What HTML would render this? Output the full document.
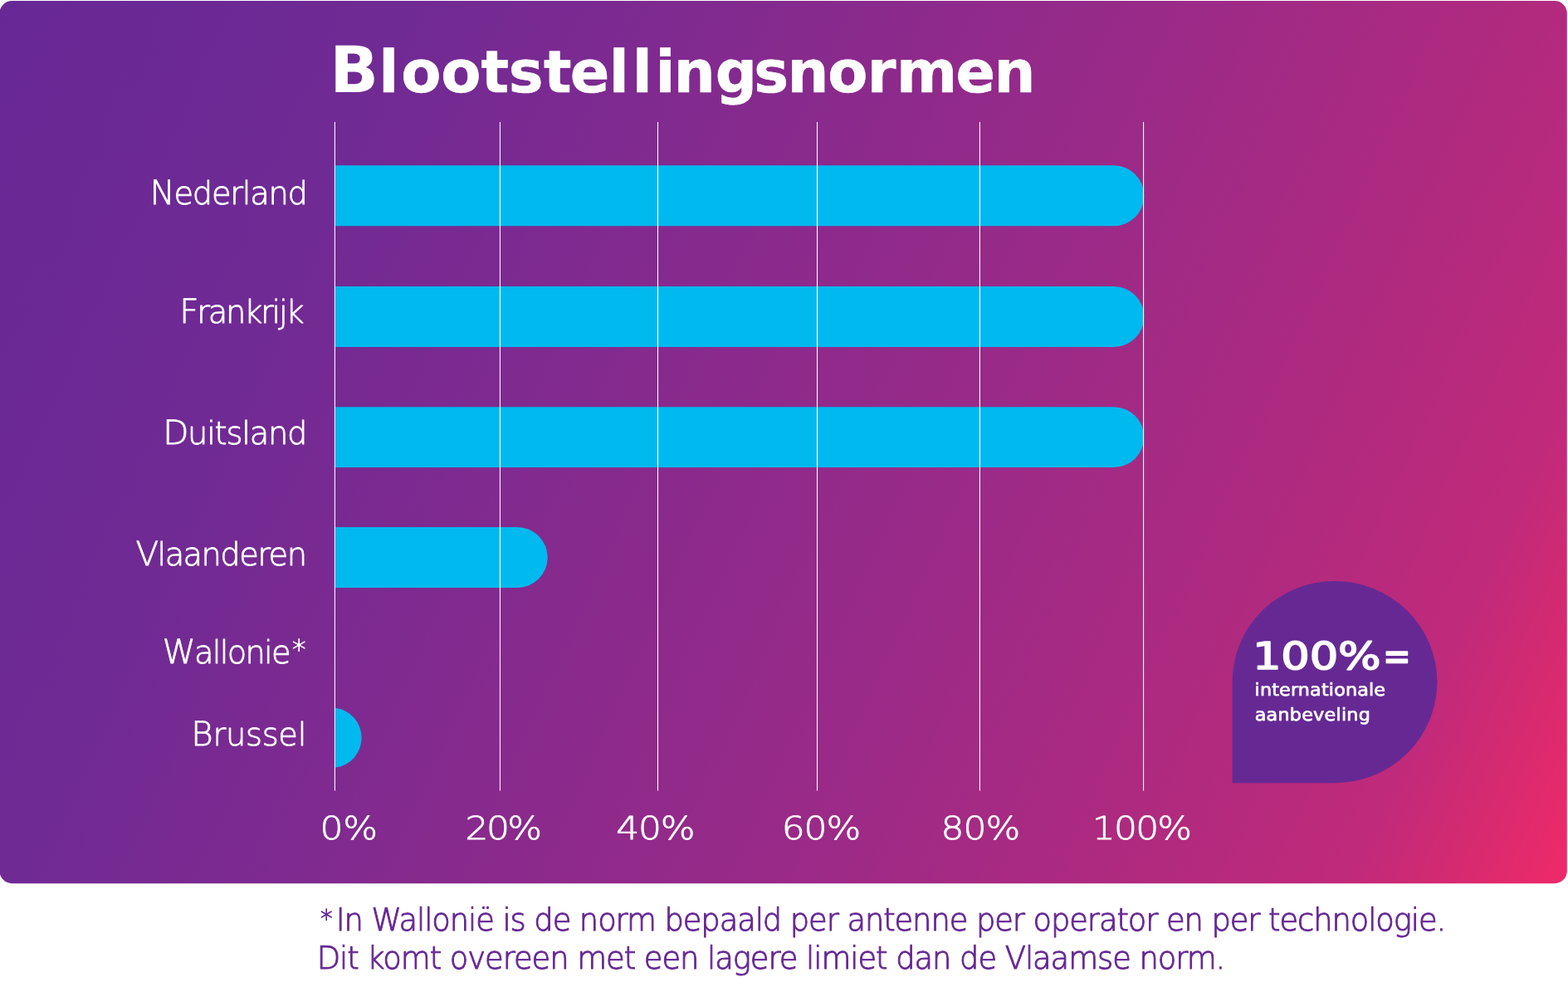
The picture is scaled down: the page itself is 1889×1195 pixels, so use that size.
<!DOCTYPE html>
<html lang="nl">
<head>
<meta charset="utf-8">
<title>Blootstellingsnormen</title>
<style>
html,body{margin:0;padding:0;background:#fff;}
body{width:1889px;height:1195px;overflow:hidden;font-family:'DejaVu Sans','Liberation Sans',sans-serif;}
svg{display:block;position:absolute;left:0;top:0;}
svg text{font-family:'DejaVu Sans','Liberation Sans',sans-serif;white-space:pre;text-rendering:geometricPrecision;}
</style>
</head>
<body>
<svg width="1889" height="1195" viewBox="0 0 1889 1195" role="img" aria-label="Blootstellingsnormen">
<defs>
<linearGradient id="bg" gradientUnits="userSpaceOnUse" x1="0" y1="0" x2="1973.26" y2="878.55"><stop offset="0%" stop-color="#672895"/><stop offset="1.57%" stop-color="#682895"/><stop offset="20.88%" stop-color="#702a94"/><stop offset="40.32%" stop-color="#852a8e"/><stop offset="59.77%" stop-color="#9a2a88"/><stop offset="79.21%" stop-color="#b22a7e"/><stop offset="88.94%" stop-color="#c12a7a"/><stop offset="94.03%" stop-color="#d62a70"/><stop offset="98.66%" stop-color="#ea2a6a"/><stop offset="100%" stop-color="#ee2a69"/></linearGradient>
</defs>
<rect x="-0.5" y="1.1" width="1888.3" height="1063.1" rx="15" ry="15" fill="url(#bg)"/>
<g fill="#00b9ee">
<path d="M404.2 199.3H1341.85A36.45 36.45 0 0 1 1341.85 272.2H404.2Z"/>
<path d="M404.2 345H1341.85A36.45 36.45 0 0 1 1341.85 417.9H404.2Z"/>
<path d="M404.2 490.2H1341.85A36.45 36.45 0 0 1 1341.85 563.1H404.2Z"/>
<path d="M404.2 635.1H623.25A36.45 36.45 0 0 1 623.25 708H404.2Z"/>
<path d="M404.2 852.65A36.45 36.45 0 0 1 404.2 924.85Z"/>
</g>
<g fill="#fff" fill-opacity="1">
<rect x="402.88" y="146.9" width="1.05" height="805.6"/>
<rect x="601.88" y="146.9" width="1.05" height="805.6"/>
<rect x="791.98" y="146.9" width="1.05" height="805.6"/>
<rect x="983.98" y="146.9" width="1.05" height="805.6"/>
<rect x="1179.88" y="146.9" width="1.05" height="805.6"/>
<rect x="1377.07" y="146.9" width="1.05" height="805.6"/>
</g>
<path fill="#662994" d="M1484.6 943.2V821.55A123.4 121.65 0 0 1 1608 699.9A123.4 121.65 0 0 1 1731.4 821.55A123.4 121.65 0 0 1 1608 943.2Z"/>
<g>
<text font-size="70.2" font-weight="700" fill="#fff" stroke="#fff" stroke-width="0.6" stroke-linejoin="round" x="397.2 456.2 483.3 531.3 579.5 612.7 654.9 686.8 733.8 761.7 789.6 811.8 861.8 908.2 948.4 997.3 1044.7 1080 1151.4 1197.5" y="110.5"><tspan font-size="77.2" stroke-width="0">B</tspan>lootstellingsnormen</text>
<text font-size="38.4" font-weight="200" fill="#fff" stroke="#fff" stroke-width="0.8" stroke-linejoin="round" letter-spacing="-1.25" x="180.45" y="245.9"><tspan font-size="40.4">N</tspan>ederland</text>
<text font-size="38.4" font-weight="200" fill="#fff" stroke="#fff" stroke-width="0.8" stroke-linejoin="round" letter-spacing="-2.28" x="216.31" y="389.1"><tspan font-size="40.4">F</tspan>rankrijk</text>
<text font-size="38.4" font-weight="200" fill="#fff" stroke="#fff" stroke-width="0.8" stroke-linejoin="round" letter-spacing="-1.23" x="196.21" y="535.2"><tspan font-size="40.4">D</tspan>uitsland</text>
<text font-size="38.4" font-weight="200" fill="#fff" stroke="#fff" stroke-width="0.8" stroke-linejoin="round" letter-spacing="-1.56" x="163.48" y="681.3"><tspan font-size="40.4">V</tspan>laanderen</text>
<text font-size="38.4" font-weight="200" fill="#fff" stroke="#fff" stroke-width="0.8" stroke-linejoin="round" letter-spacing="-1.72" x="195.78" y="799.1"><tspan font-size="40.4">W</tspan>allonie<tspan dx="3" font-size="33" dy="-5">*</tspan></text>
<text font-size="38.4" font-weight="200" fill="#fff" stroke="#fff" stroke-width="0.8" stroke-linejoin="round" letter-spacing="-0.3" x="230.3" y="897.9"><tspan font-size="40.4">B</tspan>russel</text>
<text font-size="38.6" font-weight="200" fill="#fff" stroke="#fff" stroke-width="0.8" stroke-linejoin="round" letter-spacing="-0.08" transform="translate(385.46 1011) scale(1.14 1)">0%</text>
<text font-size="38.6" font-weight="200" fill="#fff" stroke="#fff" stroke-width="0.8" stroke-linejoin="round" letter-spacing="-2.3" transform="translate(560.62 1011) scale(1.14 1)">20%</text>
<text font-size="38.6" font-weight="200" fill="#fff" stroke="#fff" stroke-width="0.8" stroke-linejoin="round" letter-spacing="-1.08" transform="translate(742.19 1011) scale(1.14 1)">40%</text>
<text font-size="38.6" font-weight="200" fill="#fff" stroke="#fff" stroke-width="0.8" stroke-linejoin="round" letter-spacing="-0.99" transform="translate(941.74 1011) scale(1.14 1)">60%</text>
<text font-size="38.6" font-weight="200" fill="#fff" stroke="#fff" stroke-width="0.8" stroke-linejoin="round" letter-spacing="-0.81" transform="translate(1133.47 1011) scale(1.14 1)">80%</text>
<text font-size="38.6" font-weight="200" fill="#fff" stroke="#fff" stroke-width="0.8" stroke-linejoin="round" letter-spacing="-1.58" transform="translate(1315.77 1011) scale(1.14 1)">100%</text>
<text font-size="45.2" font-weight="400" fill="#fff" stroke="#fff" stroke-width="1.7" stroke-linejoin="round" letter-spacing="-0.1" transform="translate(1508.89 806.4) scale(1.2 1)">100%</text>
<text font-size="45.6" font-weight="400" fill="#fff" stroke="#fff" stroke-width="2" stroke-linejoin="round" transform="translate(1666.24 806.4) scale(0.87 1)">=</text>
<text font-size="21" font-weight="400" fill="#fff" stroke="#fff" stroke-width="0.7" stroke-linejoin="round" letter-spacing="0.15" transform="translate(1511.56 837.7) scale(1.06 1)">internationale</text>
<text font-size="21" font-weight="400" fill="#fff" stroke="#fff" stroke-width="0.7" stroke-linejoin="round" letter-spacing="0.23" transform="translate(1511.68 868.2) scale(1.06 1)">aanbeveling</text>
<text font-size="38" font-weight="200" fill="#672894" stroke="#672894" stroke-width="1" stroke-linejoin="round" letter-spacing="-1.12" transform="translate(386 1121.1) scale(0.97 1)"><tspan font-size="30" dy="-4.5">*</tspan><tspan dx="5.5" dy="4.5">In Wallonië is de norm bepaald per antenne per operator en per technologie.</tspan></text>
<text font-size="38" font-weight="200" fill="#672894" stroke="#672894" stroke-width="1" stroke-linejoin="round" letter-spacing="-1.08" transform="translate(381.75 1166.6) scale(0.97 1)">Dit komt overeen met een lagere limiet dan de Vlaamse norm.</text>
</g>
</svg>
</body>
</html>
